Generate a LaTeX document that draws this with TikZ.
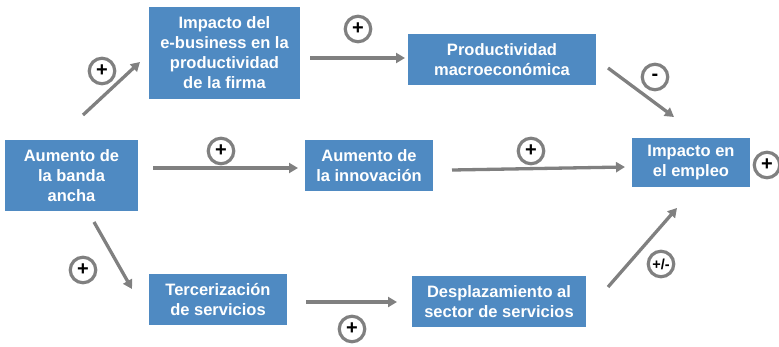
\documentclass[tikz,border=0pt]{standalone}
\usepackage{fontspec}
\setmainfont{Liberation Sans}
\usetikzlibrary{arrows.meta}
\definecolor{boxblue}{RGB}{79,138,194}
\definecolor{arrgray}{RGB}{128,128,128}
\tikzset{
  box/.style={fill=boxblue, text=white, font=\fontsize{16.5}{20}\selectfont\bfseries, align=center, inner sep=0pt},
  arr/.style={draw=arrgray, line width=3.3pt, -{Triangle[length=9pt,width=10pt]}},
  sign/.style={circle, draw=arrgray, line width=3.2pt, fill=white, minimum size=25.5pt, inner sep=0pt, font=\fontsize{20}{20}\selectfont\bfseries},
}
\begin{document}
\begin{tikzpicture}[x=1pt,y=-1pt]
\useasboundingbox (0,0) rectangle (779,346);
% boxes
\node[box, minimum width=151pt, minimum height=92pt] (ebus) at (224.5,53) {Impacto del\\e-business en la\\productividad\\de la firma};
\node[box, minimum width=188pt, minimum height=51pt] (prod) at (502,59.5) {Productividad\\macroeconómica};
\node[box, minimum width=133pt, minimum height=71pt] (banda) at (71.5,175.5) {Aumento de\\la banda\\ancha};
\node[box, minimum width=128pt, minimum height=51pt] (innov) at (369,165.5) {Aumento de\\la innovación};
\node[box, minimum width=118pt, minimum height=49pt] (empleo) at (691,162.5) {Impacto en\\el empleo};
\node[box, minimum width=138pt, minimum height=51pt] (terc) at (218,299.5) {Tercerización\\de servicios};
\node[box, minimum width=174pt, minimum height=51pt] (despl) at (499,301.5) {Desplazamiento al\\sector de servicios};
% arrow end points
\coordinate (bandaNE) at (83,115);   \coordinate (ebusSW) at (140,62);
\coordinate (ebusE) at (310,58);     \coordinate (prodW) at (405,58);
\coordinate (prodSE) at (608,68);    \coordinate (empNW) at (674,117);
\coordinate (bandaE) at (153,168);   \coordinate (innovW) at (298,168);
\coordinate (innovE) at (452,170);   \coordinate (empW) at (625,167);
\coordinate (bandaS) at (94,222);    \coordinate (tercNW) at (132,289);
\coordinate (tercE) at (306,302);    \coordinate (desplW) at (397,302);
\coordinate (desplNE) at (608,287);  \coordinate (empSW) at (677,208);
% arrows
\draw[arr] (bandaNE) -- (ebusSW);
\draw[arr] (ebusE) -- (prodW);
\draw[arr] (prodSE) -- (empNW);
\draw[arr] (bandaE) -- (innovW);
\draw[arr] (innovE) -- (empW);
\draw[arr] (bandaS) -- (tercNW);
\draw[arr] (tercE) -- (desplW);
\draw[arr] (desplNE) -- (empSW);
% signs
\node[sign] (s1) at (102,71) {+};
\node[sign] (s2) at (358,29) {+};
\node[sign] (s3) at (221,151) {+};
\node[sign] (s4) at (655,77) {-};
\node[sign] (s5) at (531,151) {+};
\node[sign] (s6) at (767,165) {+};
\node[sign] (s7) at (83,270) {+};
\node[sign] (s8) at (352,329) {+};
\node[sign, font=\fontsize{14.5}{14.5}\selectfont\bfseries] (s9) at (661,264) {+/-};
\end{tikzpicture}
\end{document}
